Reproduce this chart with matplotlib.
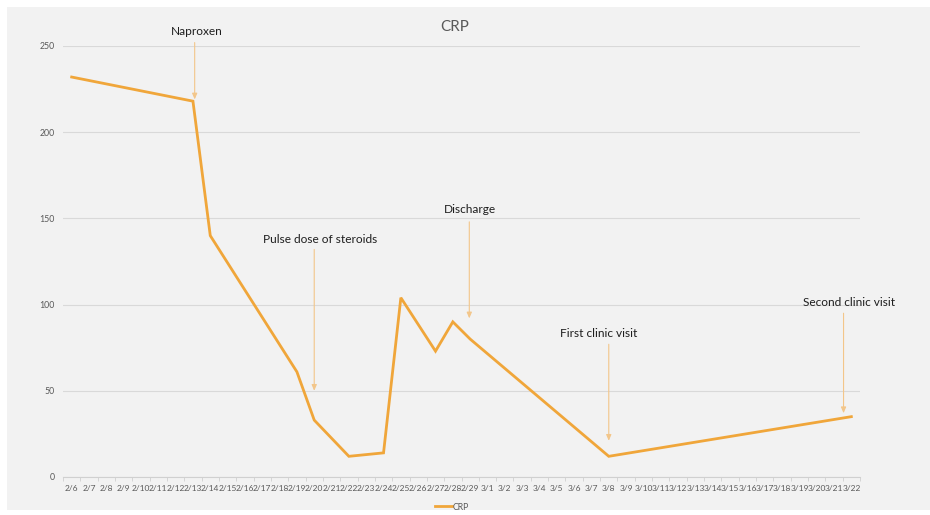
import matplotlib
matplotlib.use('Agg')
import matplotlib.pyplot as plt
from matplotlib.patches import Rectangle
from matplotlib.lines import Line2D

plt.rcParams['font.family'] = ['Lato', 'DejaVu Sans']

# Daily category axis, 2/6 through 3/22
feb_days = [f'2/{d}' for d in range(6, 30)]
mar_days = [f'3/{d}' for d in range(1, 23)]
day_labels = feb_days + mar_days

# CRP measurements (only on days when drawn)
crp_dates = ['2/6', '2/13', '2/14', '2/19', '2/20', '2/22', '2/24',
             '2/25', '2/27', '2/28', '2/29', '3/8', '3/22']
crp_values = [232, 218, 140, 61, 33, 12, 14, 104, 73, 90, 80, 12, 35]

# Clinical events
event_labels = ['Naproxen', 'Pulse dose of steroids', 'Discharge',
                'First clinic visit', 'Second clinic visit']
event_dates = ['2/13', '2/20', '2/29', '3/8', '3/22']

y_ticks = [0, 50, 100, 150, 200, 250]

line_color = '#F0A63A'
arrow_color = '#F3C68A'
text_gray = '#595959'

fig = plt.figure(figsize=(9.3, 5.15), dpi=100)
fig.patch.set_facecolor('white')
fig.patches.append(Rectangle((7 / 930, 5 / 515), 923 / 930, 503 / 515,
                             transform=fig.transFigure, facecolor='#F2F2F2',
                             edgecolor='none', zorder=-5))

ax = fig.add_axes([63 / 930, 38 / 515, 797 / 930, 431 / 515])
ax.set_facecolor('none')

xs = [day_labels.index(d) for d in crp_dates]
ax.plot(xs, crp_values, color=line_color, lw=2.0, solid_joinstyle='miter',
        zorder=3, label='CRP')

ax.set_xlim(-0.5, len(day_labels) - 0.5)
ax.set_ylim(0, 250)
ax.set_yticks(y_ticks)
ax.set_xticks(range(len(day_labels)))
ax.set_xticklabels(day_labels)
ax.set_xticks([i + 0.5 for i in range(-1, len(day_labels))], minor=True)

ax.grid(axis='y', color='#D9D9D9', lw=0.8, zorder=1)
for s in ['top', 'right', 'left']:
    ax.spines[s].set_visible(False)
ax.spines['bottom'].set_color('#D0D0D0')
ax.spines['bottom'].set_linewidth(0.8)

ax.tick_params(axis='x', which='major', length=0, pad=6, labelsize=6.0,
               labelcolor=text_gray)
ax.tick_params(axis='x', which='minor', length=3, width=0.6, color='#D0D0D0',
               direction='out')
ax.tick_params(axis='y', length=0, pad=6, labelsize=6.3, labelcolor=text_gray)

# Arrow positions: (x offset from event day, arrow tail, arrow tip, text y, text x shift)
event_layout = [
    (0.1, 252, 219, 258.5, 0.1),
    (0.0, 132, 50, 137.5, 0.35),
    (-0.05, 148, 92, 155, 0.05),
    (0.0, 77, 21, 83, -0.6),
    (-0.45, 95, 37, 101, 0.3),
]
for label, day, (dx, tail, tip, ty, tx) in zip(event_labels, event_dates, event_layout):
    x = day_labels.index(day) + dx
    ax.annotate('', xy=(x, tip), xytext=(x, tail),
                arrowprops=dict(arrowstyle='-|>,head_length=0.35,head_width=0.15',
                                color=arrow_color, lw=0.8, shrinkA=0, shrinkB=0),
                annotation_clip=False, zorder=2)
    ax.text(x + tx, ty, label, ha='center', va='center', fontsize=8.6,
            color='#1E1E1E', clip_on=False)

fig.text(455 / 930, 1 - 27 / 515, 'CRP', ha='center', va='center',
         fontsize=11, color=text_gray)

handle = Line2D([], [], color=line_color, lw=2.0)
fig.legend([handle], ['CRP'], loc='center', bbox_to_anchor=(452 / 930, 1 - 507 / 515),
           frameon=False, fontsize=6.3, labelcolor=text_gray, handlelength=2.0,
           handletextpad=0.1)

fig.savefig('out.png', dpi=100, facecolor=fig.get_facecolor())
